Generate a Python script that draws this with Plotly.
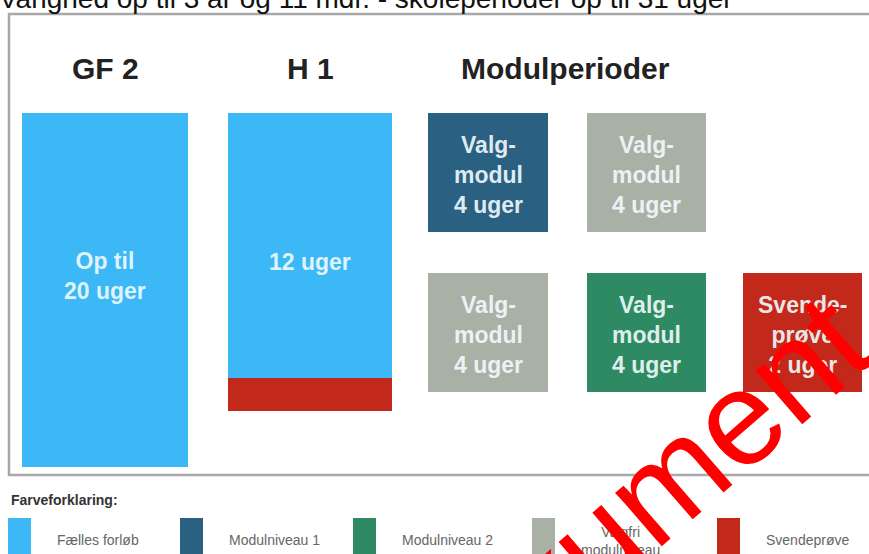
import plotly.graph_objects as go

# ---------------- data ----------------
header_text = "Varighed op til 3 år og 11 mdr. - skoleperioder op til 31 uger"
period_titles = ["GF 2", "H 1", "Modulperioder"]

box_labels = ["Op til<br>20 uger", "12 uger", "",
              "Valg-<br>modul<br>4 uger", "Valg-<br>modul<br>4 uger",
              "Valg-<br>modul<br>4 uger", "Valg-<br>modul<br>4 uger",
              "Svende-<br>prøve<br>2 uger"]
box_types = ["Fælles forløb", "Fælles forløb", "Svendeprøve",
             "Modulniveau 1", "Valgfri modulniveau",
             "Valgfri modulniveau", "Modulniveau 2",
             "Svendeprøve"]

legend_title = "Farveforklaring:"
legend_items = ["Fælles forløb", "Modulniveau 1", "Modulniveau 2",
                "Valgfri modulniveau", "Svendeprøve"]
legend_labels = ["Fælles forløb", "Modulniveau 1", "Modulniveau 2",
                 "Valgfri<br>modulniveau", "Svendeprøve"]
watermark = "Dokument"

# ---------------- styles / geometry ----------------
colors = {"Fælles forløb": "#3bb8f5", "Modulniveau 1": "#2a6182",
          "Modulniveau 2": "#2e8a62", "Valgfri modulniveau": "#a9b1a7",
          "Svendeprøve": "#c3291a"}
# (x-left, x-right, y-top, y-bottom) in pixel-like axis units
box_geom = [(22, 188, 113, 467), (228, 392, 113, 378), (228, 392, 378, 411),
            (428, 548, 113, 232), (587, 706, 113, 232),
            (428, 548, 273, 392), (587, 706, 273, 392), (743, 862, 273, 392)]
label_y = [276, 262, 0, 175, 175, 335, 335, 335]
title_x = [105, 310, 565]
legend_sq_x = [8, 180, 353, 532, 717]

W, H = 869, 554
fig = go.Figure()

# boxes as bars
for (x0, x1, y0, y1), t in zip(box_geom, box_types):
    fig.add_trace(go.Bar(x=[(x0 + x1) / 2], y=[y1 - y0], base=[y0],
                         width=[x1 - x0], marker=dict(color=colors[t], line=dict(width=0)),
                         hoverinfo="skip", showlegend=False))

# legend squares as bars
for lx, item in zip(legend_sq_x, legend_items):
    fig.add_trace(go.Bar(x=[lx + 11.5], y=[60], base=[518], width=[23],
                         marker=dict(color=colors[item], line=dict(width=0)),
                         hoverinfo="skip", showlegend=False))

ann = []
# header (partly cut off at top)
ann.append(dict(x=0, y=16, xref="x", yref="y", text=header_text, showarrow=False,
                xanchor="left", yanchor="bottom", xshift=-3,
                font=dict(family="Liberation Sans, Arial", size=28, color="#111")))
for tx, tt in zip(title_x, period_titles):
    ann.append(dict(x=tx, y=68, xref="x", yref="y", text="<b>" + tt + "</b>", showarrow=False,
                    font=dict(family="Liberation Sans, Arial", size=30, color="#222"),
                    xanchor="center", yanchor="middle"))
for (x0, x1, y0, y1), lab, ly in zip(box_geom, box_labels, label_y):
    if lab:
        ann.append(dict(x=(x0 + x1) / 2, y=ly, xref="x", yref="y",
                        text="<b>" + lab + "</b>", showarrow=False,
                        font=dict(family="Liberation Sans, Arial", size=23,
                                  color="rgba(240,250,252,0.92)"),
                        xanchor="center", yanchor="middle"))
ann.append(dict(x=9, y=500, xref="x", yref="y", text="<b>" + legend_title + "</b>",
                showarrow=False, xanchor="left", yanchor="middle",
                font=dict(family="Liberation Sans, Arial", size=14, color="#333")))
for lx, ll in zip(legend_sq_x, legend_labels):
    two = "<br>" in ll
    ann.append(dict(x=lx + 47, y=540 if not two else 541, xref="x", yref="y", text=ll,
                    showarrow=False, xanchor="left", yanchor="middle",
                    font=dict(family="Liberation Sans, Arial", size=14, color="#666")))
# watermark
ann.append(dict(x=618, y=522, xref="x", yref="y", text=watermark, showarrow=False,
                textangle=-41, xanchor="center", yanchor="middle",
                font=dict(family="Liberation Sans, Arial", size=134, color="#ff0000")))

fig.update_layout(
    width=W, height=H, margin=dict(l=0, r=0, t=0, b=0),
    paper_bgcolor="white", plot_bgcolor="white", barmode="overlay",
    xaxis=dict(range=[0, W], visible=False, fixedrange=True),
    yaxis=dict(range=[H, 0], visible=False, fixedrange=True),
    annotations=ann,
    shapes=[dict(type="rect", xref="x", yref="y", x0=9, x1=W + 10, y0=14, y1=475,
                 line=dict(color="#a8a8a8", width=2.5), fillcolor="rgba(0,0,0,0)",
                 layer="below")],
)
fig.write_html("out.html", config={"displayModeBar": False},
               post_script="document.body.style.margin='0';document.body.style.overflow='hidden';")
